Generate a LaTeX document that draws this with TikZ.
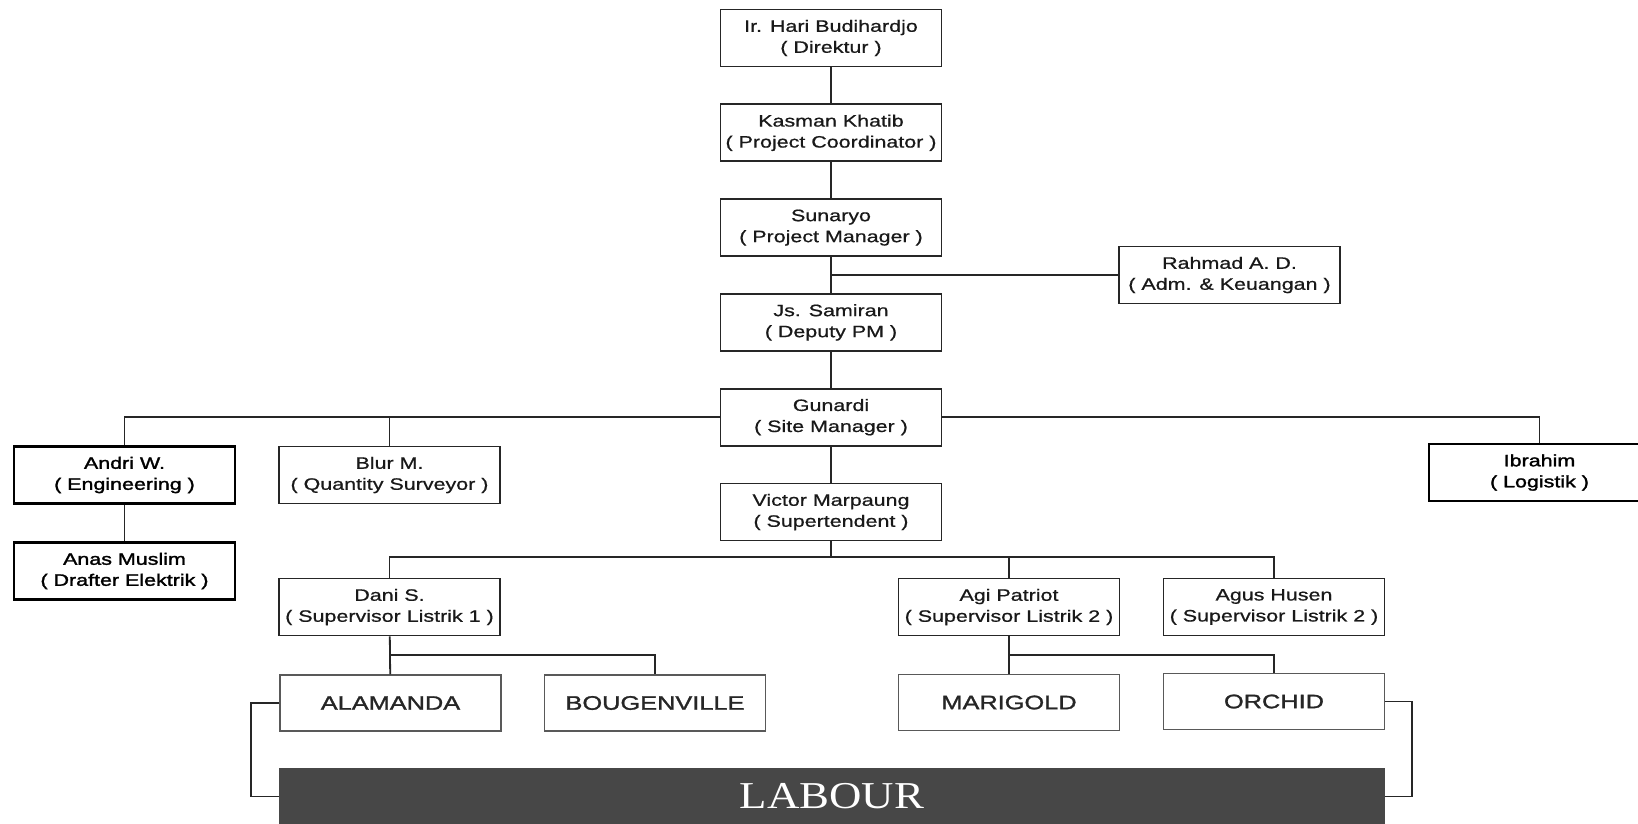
\documentclass[tikz,border=0pt]{standalone}
\usepackage{fontspec}
\setmainfont[FakeStretch=1.3,FakeBold=0.7]{Liberation Sans}
\newfontfamily\tebalfont[FakeStretch=1.3,FakeBold=1.8]{Liberation Sans}
\newfontfamily\proyekfont[FakeStretch=1.3,FakeBold=1.4]{Liberation Sans}
\newfontfamily\labourfont[FakeStretch=1.18]{Liberation Serif}
\usepackage{tikz}
\usetikzlibrary{positioning}
\tikzstyle{jabatan}=[rectangle, draw=black!85, line width=1.8pt, minimum width=221pt, minimum height=57pt, inner sep=2pt, align=center, text=black!90, font=\fontsize{16.5}{21}\selectfont]
\tikzstyle{tebal}=[jabatan, draw=black, line width=2.6pt, text=black, font=\tebalfont\fontsize{16.5}{21}\selectfont]
\tikzstyle{proyek}=[rectangle, draw=black!65, line width=1.4pt, minimum width=221pt, minimum height=56pt, text=black!85, font=\proyekfont\fontsize{19.5}{23}\selectfont]
\tikzstyle{labour}=[rectangle, fill=black!72, minimum width=1106pt, minimum height=57pt, text=white, font=\labourfont\fontsize{38}{40}\selectfont]
\tikzstyle{garis}=[draw=black!85, line width=1.8pt]

\begin{document}
\begin{tikzpicture}[x=1pt, y=-1pt, node distance=36pt]
\path[use as bounding box, fill=white] (0,0) rectangle (1638,824);
% jalur utama
\node[jabatan] (dir) at (831,38) {Ir. Hari Budihardjo\\( Direktur )};
\node[jabatan] (pc) [below=of dir] {Kasman Khatib\\( Project Coordinator )};
\node[jabatan] (pm) [below=of pc] {Sunaryo\\( Project Manager )};
\node[jabatan] (dpm) [below=of pm] {Js. Samiran\\( Deputy PM )};
\node[jabatan] (sm) [below=of dpm] {Gunardi\\( Site Manager )};
\node[jabatan] (sup) [below=of sm] {Victor Marpaung\\( Supertendent )};
\node[jabatan] (adm) at (1229.5,275) {Rahmad A. D.\\( Adm. \& Keuangan )};
% staf site manager
\node[tebal] (eng) at (124.5,475) {Andri W.\\( Engineering )};
\node[tebal] (drf) at (124.5,571) {Anas Muslim\\( Drafter Elektrik )};
\node[jabatan] (qs) at (389.5,475) {Blur M.\\( Quantity Surveyor )};
\node[tebal] (log) at (1539.5,472.5) {Ibrahim\\( Logistik )};
% supervisor
\node[jabatan] (sv1) at (389.5,607) {Dani S.\\( Supervisor Listrik 1 )};
\node[jabatan] (sv2) at (1009,607) {Agi Patriot\\( Supervisor Listrik 2 )};
\node[jabatan] (sv3) at (1274,607) {Agus Husen\\( Supervisor Listrik 2 )};
% proyek
\node[proyek] (ala) at (390.5,703) {ALAMANDA};
\node[proyek] (bou) at (655,703) {BOUGENVILLE};
\node[proyek] (mar) at (1009,702.5) {MARIGOLD};
\node[proyek] (orc) at (1274,701.5) {ORCHID};
\node[labour] (lab) at (832,796.5) {LABOUR};

\draw[garis] (dir) -- (pc) -- (pm) -- (dpm) -- (sm) -- (sup);
\draw[garis] (pm.south |- adm) -- (adm);
\draw[garis] (sm) -| (eng);
\draw[garis] (sm) -| (qs);
\draw[garis] (sm) -| (log);
\draw[garis] (eng) -- (drf);
\coordinate (bar) at (831,557);
\draw[garis] (sup) -- (bar);
\draw[garis] (sv1) |- (bar) -| (sv3);
\draw[garis] (bar -| sv2) -- (sv2);
\draw[garis] (sv1) -- coordinate (b1) (ala);
\draw[garis] (b1) -| (bou);
\draw[garis] (sv2) -- coordinate (b2) (mar);
\draw[garis] (b2) -| (orc);
\draw[garis] (ala.west) -- ++(-28,0) |- (lab.west);
\draw[garis] (orc.east) -- ++(27,0) |- (lab.east);
\end{tikzpicture}
\end{document}
